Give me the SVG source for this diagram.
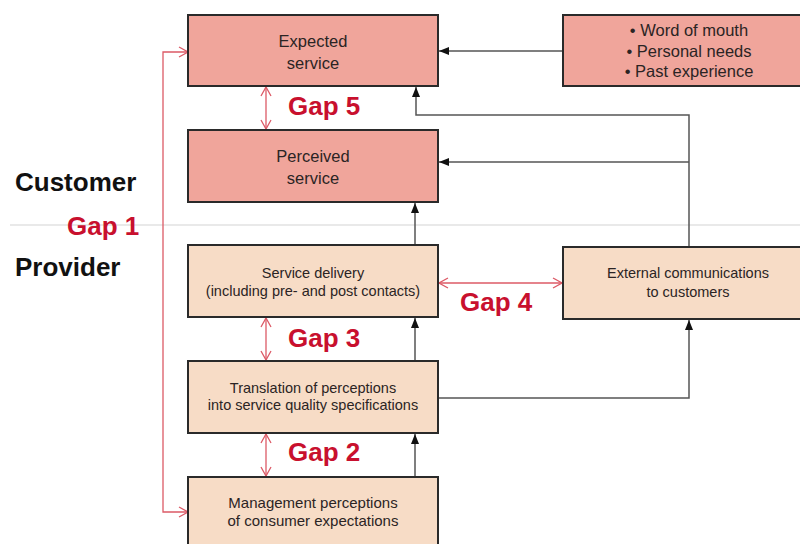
<svg xmlns="http://www.w3.org/2000/svg" width="800" height="544" viewBox="0 0 800 544">
<style>
.cust{fill:#f0a59b;stroke:#2a2a2a;stroke-width:2}
.prov{fill:#f7dcc6;stroke:#2a2a2a;stroke-width:2}
.t{font-family:"Liberation Sans",Arial,sans-serif;fill:#2b2424;text-anchor:middle}
.gap{font-family:"Liberation Sans",Arial,sans-serif;font-weight:bold;fill:#c8102e;font-size:26px}
.side{font-family:"Liberation Sans",Arial,sans-serif;font-weight:bold;fill:#111;font-size:26px}
.blk{fill:none;stroke:#555;stroke-width:1.5;marker-end:url(#tri)}
.red{fill:none;stroke:#dc5a66;stroke-width:1.3}
</style>
<defs>
<marker id="tri" markerUnits="userSpaceOnUse" markerWidth="10" markerHeight="10" viewBox="0 0 10 10" refX="10" refY="5" orient="auto">
<path d="M0,1 L10,5 L0,9 Z" fill="#111"/>
</marker>
<marker id="chev" markerUnits="userSpaceOnUse" markerWidth="12" markerHeight="12" viewBox="0 0 12 12" refX="11" refY="6" orient="auto-start-reverse">
<path d="M2,1 L11,6 L2,11" fill="none" stroke="#dc5a66" stroke-width="1.3"/>
</marker>
</defs>
<rect width="800" height="544" fill="#ffffff"/>
<line x1="10" y1="225" x2="800" y2="225" stroke="#d4d4d4" stroke-width="1.2"/>
<text class="side" x="15" y="191">Customer</text>
<text class="side" x="15" y="276">Provider</text>
<text class="gap" x="67" y="235">Gap 1</text>

<g id="connectors">
<path class="blk" d="M563,51 L439,51"/>
<path class="blk" d="M689,246 L689,115 L416,115 L416,87"/>
<path class="blk" d="M689,162 L439,162"/>
<path class="blk" d="M415,245 L415,203"/>
<path class="blk" d="M415,361 L415,318"/>
<path class="blk" d="M415,477 L415,434"/>
<path class="blk" d="M438,398 L689,398 L689,320"/>
<path class="red" d="M188,52 L163,52 L163,512 L188,512" marker-start="url(#chev)" marker-end="url(#chev)"/>
<path class="red" d="M266,87 L266,129" marker-start="url(#chev)" marker-end="url(#chev)"/>
<path class="red" d="M266,318 L266,360" marker-start="url(#chev)" marker-end="url(#chev)"/>
<path class="red" d="M266,434 L266,476" marker-start="url(#chev)" marker-end="url(#chev)"/>
<path class="red" d="M439,283 L562,283" marker-start="url(#chev)" marker-end="url(#chev)"/>
</g>
<text class="gap" x="288" y="115">Gap 5</text>
<text class="gap" x="288" y="347">Gap 3</text>
<text class="gap" x="288" y="461">Gap 2</text>
<text class="gap" x="460" y="311">Gap 4</text>

<g id="expected">
<rect class="cust" x="188" y="15" width="250" height="71"/>
<text class="t" x="313" y="47" font-size="16.5">Expected</text>
<text class="t" x="313" y="69" font-size="16.5">service</text>
</g>
<g id="influences">
<rect class="cust" x="563" y="15" width="250" height="71"/>
<text class="t" x="689" y="36" font-size="16.5">• Word of mouth</text>
<text class="t" x="689" y="57" font-size="16.5">• Personal needs</text>
<text class="t" x="689" y="77" font-size="16.5">• Past experience</text>
</g>
<g id="perceived">
<rect class="cust" x="188" y="130" width="250" height="72"/>
<text class="t" x="313" y="162" font-size="16.5">Perceived</text>
<text class="t" x="313" y="184" font-size="16.5">service</text>
</g>
<g id="delivery">
<rect class="prov" x="188" y="245" width="250" height="72"/>
<text class="t" x="313" y="278" font-size="14.5">Service delivery</text>
<text class="t" x="313" y="296" font-size="14.5">(including pre- and post contacts)</text>
</g>
<g id="external">
<rect class="prov" x="563" y="247" width="250" height="72"/>
<text class="t" x="688" y="278" font-size="14.5">External communications</text>
<text class="t" x="688" y="297" font-size="14.5">to customers</text>
</g>
<g id="translation">
<rect class="prov" x="188" y="361" width="250" height="72"/>
<text class="t" x="313" y="393" font-size="14.5">Translation of perceptions</text>
<text class="t" x="313" y="410" font-size="14.5">into service quality specifications</text>
</g>
<g id="management">
<rect class="prov" x="188" y="477" width="250" height="80"/>
<text class="t" x="313" y="508" font-size="15">Management perceptions</text>
<text class="t" x="313" y="526" font-size="15">of consumer expectations</text>
</g>
</svg>
